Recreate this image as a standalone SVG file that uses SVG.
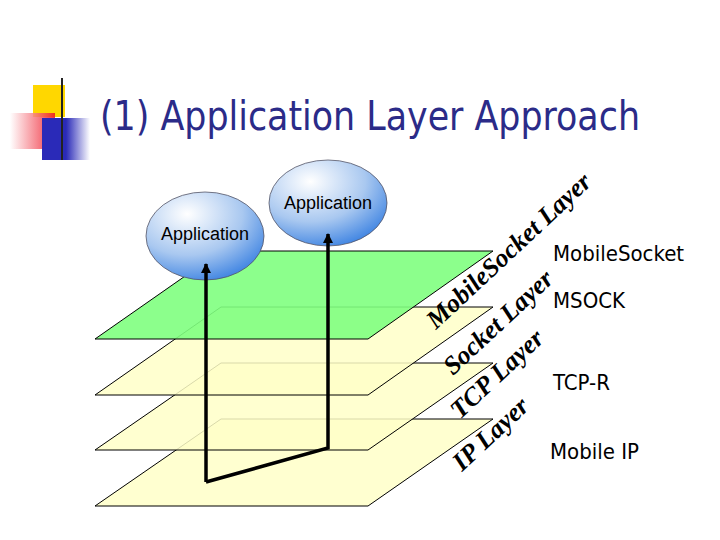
<svg xmlns="http://www.w3.org/2000/svg" width="720" height="540" viewBox="0 0 720 540">
<defs>
<radialGradient id="ball" cx="0.35" cy="0.25" r="0.85"><stop offset="0" stop-color="#ffffff"/><stop offset="0.55" stop-color="#a9c8f0"/><stop offset="1" stop-color="#2f7ae0"/></radialGradient>
<linearGradient id="red" x1="1" y1="0" x2="0" y2="0"><stop offset="0" stop-color="#ee1122"/><stop offset="1" stop-color="#ffffff"/></linearGradient>
<linearGradient id="blue" x1="0" y1="0" x2="1" y2="0"><stop offset="0.5" stop-color="#2a2ab8"/><stop offset="1" stop-color="#ffffff"/></linearGradient>
<linearGradient id="rule" x1="0" y1="0" x2="1" y2="0"><stop offset="0" stop-color="#333"/><stop offset="0.7" stop-color="#888"/><stop offset="1" stop-color="#fff"/></linearGradient>
<marker id="ah" viewBox="0 0 10 10" refX="9" refY="5" markerWidth="3" markerHeight="3" orient="auto"><path d="M0,0 L10,5 L0,10 z" fill="#000"/></marker>
</defs>
<style>
.plane{fill:#ffffc8;stroke:#000;stroke-width:1;fill-opacity:0.85}
.green{fill:#80ff80;fill-opacity:0.9}
.app{fill:url(#ball);stroke:#556;stroke-width:0.8}
.appt{font-family:"Liberation Sans",Arial,sans-serif;font-size:18px;text-anchor:middle}
.lay{font-family:"Liberation Serif","Times New Roman",serif;font-style:italic;font-weight:bold;font-size:26px}
.lbl{font-family:"DejaVu Sans Condensed","DejaVu Sans",sans-serif;font-size:22px}
.conn{stroke:#000;stroke-width:3.5;fill:none}
</style>
<g id="title">
<rect x="33" y="85" width="32" height="32" fill="#ffd700"/>
<rect x="10" y="113" width="45" height="36" fill="url(#red)" opacity="0.85"/>
<rect x="42" y="118" width="48" height="42" fill="url(#blue)"/>
<line x1="62" y1="78" x2="62" y2="160" stroke="#222" stroke-width="2"/>
<line x1="35" y1="141" x2="680" y2="141" stroke="url(#rule)" stroke-width="2"/>
<text x="100" y="130" font-family="DejaVu Sans Condensed,DejaVu Sans,sans-serif" font-size="40" fill="#2b2b88" textLength="540" lengthAdjust="spacingAndGlyphs">(1) Application Layer Approach</text>
</g>
<g id="ip-layer"><polygon class="plane" points="221,419 493,419 368,506 95,506"/></g>
<g id="tcp-layer"><polygon class="plane" points="221,363 493,363 368,450 95,450"/></g>
<g id="socket-layer"><polygon class="plane" points="221,307 493,307 368,395 95,395"/></g>
<g id="mobilesocket-layer"><polygon class="plane green" points="221,251 493,251 368,339 95,339"/></g>
<g id="app1"><ellipse class="app" cx="205" cy="236" rx="59" ry="44"/><text class="appt" x="205" y="240">Application</text></g>
<g id="app2"><ellipse class="app" cx="328" cy="203" rx="59" ry="43"/><text class="appt" x="328" y="209">Application</text></g>
<g id="connectors">
<path class="conn" d="M206,482 L206,264" marker-end="url(#ah)"/>
<path class="conn" d="M206,482 L328,448 L328,234" marker-end="url(#ah)"/>
</g>
<g id="labels">
<text class="lay" transform="translate(436,330) rotate(-43)">MobileSocket Layer</text>
<text class="lay" transform="translate(453,376) rotate(-43)">Socket Layer</text>
<text class="lay" transform="translate(460,420) rotate(-43)">TCP Layer</text>
<text class="lay" transform="translate(462,472) rotate(-43)">IP Layer</text>
<text class="lbl" x="553" y="261">MobileSocket</text>
<text class="lbl" x="553" y="308">MSOCK</text>
<text class="lbl" x="553" y="390">TCP-R</text>
<text class="lbl" x="550" y="459">Mobile IP</text>
</g>
</svg>
